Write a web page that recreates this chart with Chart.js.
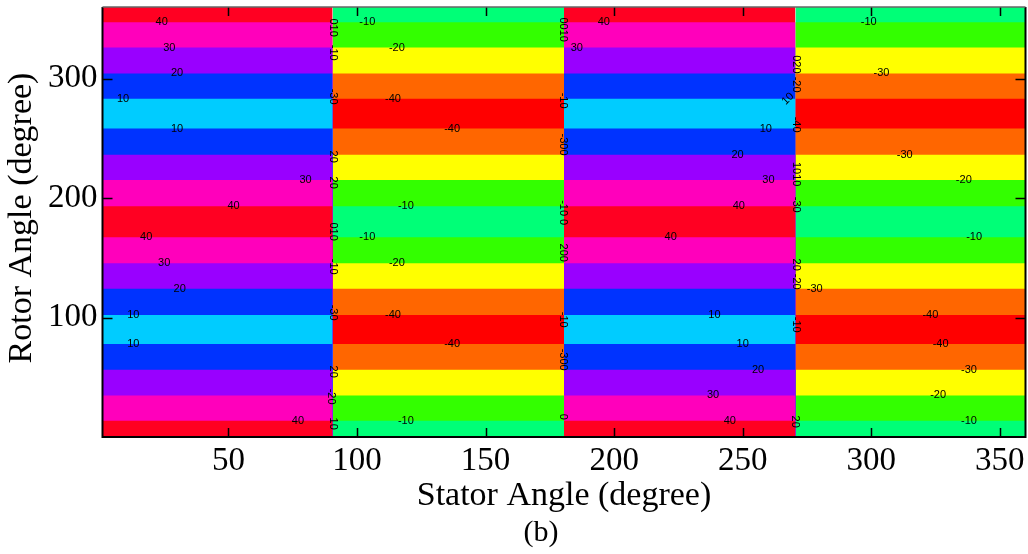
<!DOCTYPE html>
<html>
<head>
<meta charset="utf-8">
<script src="https://cdn.jsdelivr.net/npm/chart.js@4.4.0/dist/chart.umd.min.js"></script>
<style>
  html, body { margin: 0; padding: 0; background: #fff; overflow: hidden; }
  #wrap { width: 1028px; height: 554px; }
</style>
</head>
<body>
<div id="wrap"><canvas id="contourChart" width="1028" height="554"></canvas></div>
<script>
// stator angle limits of the four regions
const statorEdges = [1, 90.5, 180.5, 270.5, 360];
// rotor angles where the contour levels are crossed (same in every region)
const rotorEdges = [0, 13.6, 34.8, 56.3, 77.9, 102.1, 124.2, 145.4, 167.2, 193.1,
                    215.2, 236.4, 258.2, 283.1, 304.4, 326.1, 347.3, 360];
// fill colour for each level: <-40, -40..-30, ... , 30..40, >40
const levelColors = ['#ff0000', '#ff6600', '#ffff00', '#33ff00', '#00ff77',
                     '#00ccff', '#0033ff', '#9900ff', '#ff00bb', '#ff0022'];
// level of each rotor band, bottom to top
const positiveBands = [9, 8, 7, 6, 5, 6, 7, 8, 9, 8, 7, 6, 5, 6, 7, 8, 9];
const negativeBands = [4, 3, 2, 1, 0, 1, 2, 3, 4, 3, 2, 1, 0, 1, 2, 3, 4];
const regionBands = [positiveBands, negativeBands, positiveBands, negativeBands];

const xTicks = [50, 100, 150, 200, 250, 300, 350];
const yTicks = [100, 200, 300];

// clabel texts inside the regions: [stator, rotor, text]
const contourLabels = [
    [24, 347.3, '40'], [27, 326.1, '30'], [30, 304.4, '20'], [9, 283.1, '10'], [30, 258.2, '10'],
    [80, 215.2, '30'], [52, 193.1, '40'], [18, 167.2, '40'], [25, 145.4, '30'], [31, 124.2, '20'],
    [13, 102.1, '10'], [13, 77.9, '10'], [77, 13.6, '40'],
    [104, 347.3, '-10'], [115.5, 326.1, '-20'], [114, 283.1, '-40'], [137, 258.2, '-40'],
    [119, 193.1, '-10'], [104, 167.2, '-10'], [115.5, 145.4, '-20'], [114, 102.1, '-40'],
    [137, 77.9, '-40'], [119, 13.6, '-10'],
    [196, 347.3, '40'], [185.5, 326.1, '30'], [259, 258.2, '10'], [248, 236.4, '20'],
    [260, 215.2, '30'], [248.5, 193.1, '40'], [222, 167.2, '40'], [239, 102.1, '10'],
    [250, 77.9, '10'], [256, 56.3, '20'], [238.5, 34.8, '30'], [245, 13.6, '40'],
    [299, 347.3, '-10'], [304, 304.4, '-30'], [313, 236.4, '-30'], [336, 215.2, '-20'],
    [340, 167.2, '-10'], [278, 124.2, '-30'], [323, 102.1, '-40'], [327, 77.9, '-40'],
    [338, 56.3, '-30'], [326, 34.8, '-20'], [338, 13.6, '-10']
];
// crowded clabel texts sitting on the sign changes: [stator, rotor, text, angle]
const edgeLabels = [
    [90.5, 342.7, '010', 90], [90.5, 321.7, '-10', 90], [90.5, 285, '-30', 90],
    [90.5, 234.7, '20', 90], [90.5, 212.9, '20', 90], [90.5, 171.9, '010', 90],
    [90.5, 142.6, '-10', 90], [90.5, 104.1, '-30', 90], [90.5, 54.7, '20', 90],
    [90, 33.8, '-20', 90], [90.5, 11.1, '10', 90],
    [180.3, 341, '0010', 90], [180.3, 281.6, '-10', 90], [180, 244.8, '-300', 90],
    [180.3, 187.8, '-10 0', 90], [180.3, 154.3, '200', 90], [180.3, 98.2, '-10', 90],
    [180, 64.7, '-300', 90], [180.3, 17, '0', 90],
    [270.7, 312, '020', 90], [270.7, 295, '-20', 90], [267.6, 283.1, '10', -45],
    [270.9, 261.5, '-40', 90], [270.7, 220, '1010', 90], [270.7, 194.5, '-30', 90],
    [270.7, 144.3, '20', 90], [270.7, 130, '-20', 90], [270.7, 94, '-10', 90],
    [270.3, 12.8, '20', 90]
];

// one dataset per band; each fills from its upper contour down to the region floor,
// lower bands are painted later on top so neighbouring bands meet without gaps
const datasets = [];
regionBands.forEach((bands, r) => {
    bands.forEach((level, b) => {
        datasets.push({
            type: 'line',
            data: [
                { x: statorEdges[r], y: rotorEdges[b + 1] },
                { x: statorEdges[r + 1], y: rotorEdges[b + 1] }
            ],
            fill: { value: rotorEdges[0] },
            backgroundColor: levelColors[level],
            borderColor: 'rgba(0,0,0,0)',
            borderWidth: 0,
            pointRadius: 0,
            pointHoverRadius: 0
        });
    });
});

const serif = '"Liberation Serif", "Times New Roman", serif';

const framePlugin = {
    id: 'frame',
    afterDatasetsDraw(chart) {
        const { ctx, chartArea: a, scales: { x, y } } = chart;
        ctx.save();

        // contour labels
        ctx.fillStyle = '#000';
        ctx.font = '11px "Liberation Sans", Arial, sans-serif';
        ctx.textAlign = 'center';
        ctx.textBaseline = 'middle';
        contourLabels.forEach(([s, r, t]) => {
            ctx.fillText(t, x.getPixelForValue(s), y.getPixelForValue(r));
        });
        edgeLabels.forEach(([s, r, t, ang]) => {
            ctx.save();
            ctx.translate(x.getPixelForValue(s), y.getPixelForValue(r));
            ctx.rotate(ang * Math.PI / 180);
            ctx.fillText(t, 0, 0);
            ctx.restore();
        });

        // inward tick marks on all four sides
        ctx.strokeStyle = '#000';
        ctx.lineWidth = 1.5;
        ctx.beginPath();
        xTicks.forEach(v => {
            const px = Math.round(x.getPixelForValue(v)) + 0.5;
            ctx.moveTo(px, a.bottom); ctx.lineTo(px, a.bottom - 9);
            ctx.moveTo(px, a.top); ctx.lineTo(px, a.top + 9);
        });
        yTicks.forEach(v => {
            const py = Math.round(y.getPixelForValue(v)) + 0.5;
            ctx.moveTo(a.left, py); ctx.lineTo(a.left + 10, py);
            ctx.moveTo(a.right, py); ctx.lineTo(a.right - 10, py);
        });
        ctx.stroke();

        // box
        ctx.lineWidth = 2;
        ctx.beginPath();
        ctx.moveTo(a.left, a.top);
        ctx.lineTo(a.left, a.bottom);
        ctx.lineTo(a.right, a.bottom);
        ctx.lineTo(a.right, a.top);
        ctx.stroke();
        ctx.strokeStyle = '#666';
        ctx.lineWidth = 1.5;
        ctx.beginPath();
        ctx.moveTo(a.left, a.top);
        ctx.lineTo(a.right, a.top);
        ctx.stroke();

        // axis titles and caption
        ctx.fillStyle = '#000';
        ctx.font = '34px ' + serif;
        ctx.textAlign = 'center';
        ctx.textBaseline = 'alphabetic';
        const cx = (a.left + a.right) / 2;
        ctx.fillText('Stator Angle (degree)', cx, 505);
        ctx.font = '30px ' + serif;
        ctx.fillText('(b)', 541, 541);
        ctx.save();
        ctx.translate(31, 218);
        ctx.rotate(-Math.PI / 2);
        ctx.font = '34px ' + serif;
        ctx.fillText('Rotor Angle (degree)', 0, 0);
        ctx.restore();

        ctx.restore();
    }
};

new Chart(document.getElementById('contourChart').getContext('2d'), {
    type: 'line',
    data: { datasets },
    options: {
        responsive: false,
        animation: false,
        events: [],
        layout: { padding: { top: 7, right: 2.5, left: 0, bottom: 0 } },
        plugins: { legend: { display: false }, tooltip: { enabled: false } },
        scales: {
            x: {
                type: 'linear', min: 1, max: 360,
                afterBuildTicks: s => { s.ticks = xTicks.map(v => ({ value: v })); },
                afterFit: s => { s.height = 117; s.paddingLeft = 0; s.paddingRight = 0; },
                grid: { display: false, drawTicks: false },
                border: { display: false },
                ticks: { color: '#000', font: { family: serif, size: 33 }, padding: 5, maxRotation: 0, autoSkip: false }
            },
            y: {
                type: 'linear', min: 0, max: 360,
                afterBuildTicks: s => { s.ticks = yTicks.map(v => ({ value: v })); },
                afterFit: s => { s.width = 102.5; s.paddingTop = 0; s.paddingBottom = 0; },
                grid: { display: false, drawTicks: false },
                border: { display: false },
                ticks: { color: '#000', font: { family: serif, size: 33 }, padding: 5, autoSkip: false }
            }
        }
    },
    plugins: [framePlugin]
});
</script>
</body>
</html>
